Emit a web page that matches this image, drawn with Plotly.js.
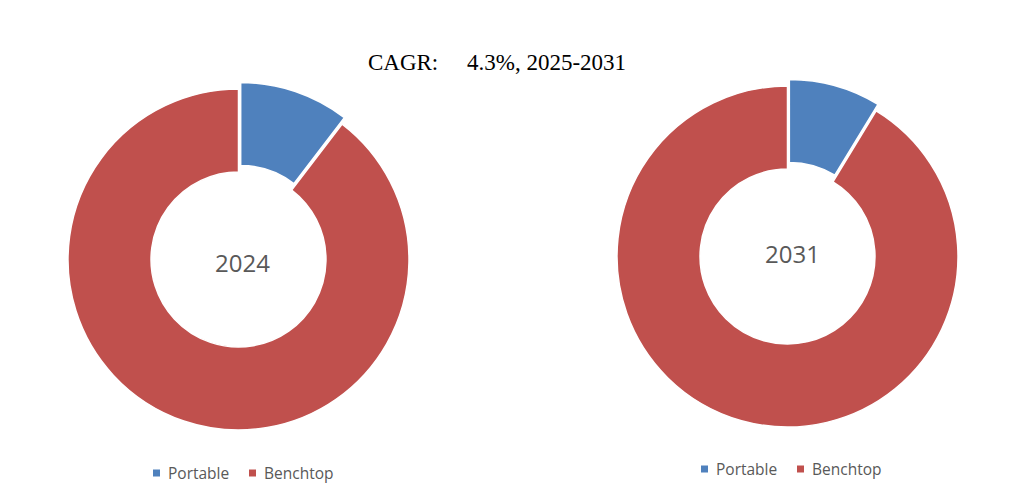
<!DOCTYPE html>
<html>
<head>
<meta charset="utf-8">
<script src="https://cdn.plot.ly/plotly-3.0.1.min.js"></script>
<style>
html,body{margin:0;padding:0;background:#fff;}
#chart{width:1028px;height:502px;}
</style>
</head>
<body>
<div id="chart"></div>
<script>
const categories = ["Portable", "Benchtop"];
const years = ["2024", "2031"];
const share2024 = [10.4, 89.6];
const share2031 = [8.7, 91.3];
const colors = ["#4F81BD", "#C0504D"];
const titleText = "CAGR:&nbsp;&nbsp;&nbsp;&nbsp;&nbsp;4.3%, 2025-2031";

const W = 1028, H = 502;
function dom(cx, cy, half) {
  return {
    x: [(cx - half) / W, (cx + half) / W],
    y: [(H - cy - half) / H, (H - cy + half) / H]
  };
}
const pull = 0.04;
const half = 170.5 * (1 + pull);

function pieTrace(vals, d) {
  return {
    type: "pie",
    labels: categories,
    values: vals,
    hole: 0.513,
    sort: false,
    direction: "clockwise",
    rotation: 0,
    pull: [pull, 0],
    textinfo: "none",
    hoverinfo: "label+value",
    marker: { colors: colors, line: { color: "#ffffff", width: 1.5 } },
    domain: d,
    showlegend: false
  };
}

const data = [
  pieTrace(share2024, dom(238.5, 259.5, half)),
  pieTrace(share2031, dom(787.5, 256.5, half))
];

const legendFont = { family: "Open Sans, sans-serif", size: 15.5, color: "#595959" };
// legend rows: [first square left x, center y] for each donut
const legendRows = [[153, 473], [701, 469]];
const itemStep = 96;
const shapes = [];
const annotations = [
  { text: years[0], x: 242 / W, y: 1 - 262 / H, xref: "paper", yref: "paper",
    showarrow: false, xanchor: "center", yanchor: "middle",
    font: { family: "Open Sans, sans-serif", size: 24, color: "#595959" } },
  { text: years[1], x: 792 / W, y: 1 - 253 / H, xref: "paper", yref: "paper",
    showarrow: false, xanchor: "center", yanchor: "middle",
    font: { family: "Open Sans, sans-serif", size: 24, color: "#595959" } }
];
legendRows.forEach(([lx, ly]) => {
  categories.forEach((c, i) => {
    const sx = lx + i * itemStep;
    shapes.push({
      type: "rect", xref: "paper", yref: "paper",
      x0: sx / W, x1: (sx + 7) / W,
      y0: 1 - (ly + 3.5) / H, y1: 1 - (ly - 3.5) / H,
      fillcolor: colors[i], line: { width: 0 }
    });
    annotations.push({
      text: c, x: (sx + 13) / W, y: 1 - ly / H, xref: "paper", yref: "paper",
      showarrow: false, xanchor: "left", yanchor: "middle", font: legendFont
    });
  });
});

const layout = {
  width: W, height: H,
  margin: { l: 0, r: 0, t: 0, b: 0 },
  paper_bgcolor: "#ffffff",
  plot_bgcolor: "#ffffff",
  showlegend: false,
  title: {
    text: titleText,
    x: 497 / W, xanchor: "center",
    y: 1 - 62 / H, yanchor: "middle",
    font: { family: "Liberation Serif, serif", size: 23, color: "#000000" }
  },
  shapes: shapes,
  annotations: annotations
};

Plotly.newPlot("chart", data, layout, { displayModeBar: false, staticPlot: true });
</script>
</body>
</html>
